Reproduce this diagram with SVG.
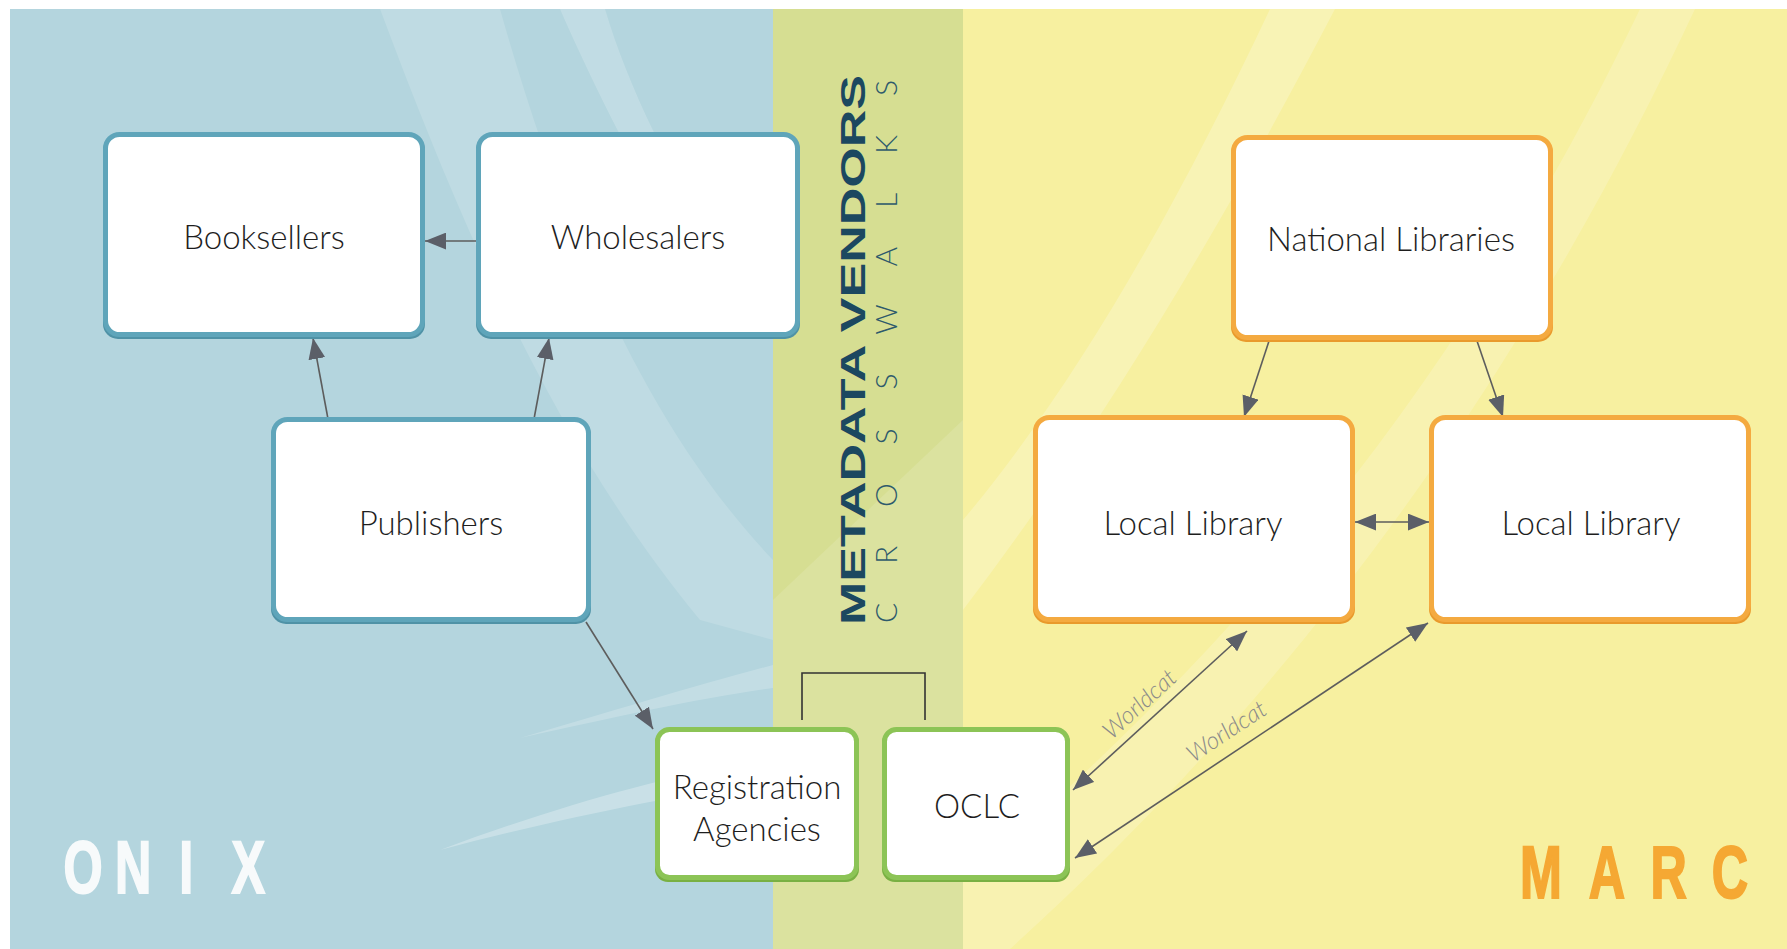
<svg xmlns="http://www.w3.org/2000/svg" width="1787" height="949" viewBox="0 0 1787 949">
<style>
.lbl{font-family:Lato,"Liberation Sans",Arial,sans-serif;font-weight:300;font-size:33px;fill:#1e1e1e;text-anchor:middle}
.box{fill:#fff;stroke-width:5}
.blue{stroke:#5fa5ba}
.blueS{fill:#4f92a6}
.orange{stroke:#f4aa40}
.orangeS{fill:#e99a2c}
.green{stroke:#8cc456}
.greenS{fill:#79b043}
.conn{stroke:#5d5d5d;stroke-width:1.6;fill:none}
.wc{font-family:Lato,"Liberation Sans",Arial,sans-serif;font-weight:300;font-style:italic;font-size:24px;fill:#8a8a8a;text-anchor:middle}
.big{font-family:"Liberation Sans",Arial,sans-serif;font-weight:bold;font-size:74px;text-anchor:middle;stroke-width:2}
</style>
<defs>
<marker id="ah" viewBox="0 0 20 16" refX="20" refY="8" markerWidth="21" markerHeight="17" markerUnits="userSpaceOnUse" orient="auto-start-reverse">
<path d="M0,0 L20,8 L0,16 Z" fill="#5b5f68"/>
</marker>
</defs>
<rect x="0" y="0" width="1787" height="949" fill="#ffffff"/>
<g id="background">
<rect x="10" y="9" width="763" height="940" fill="#b4d5de"/>
<rect x="773" y="9" width="190" height="940" fill="#d6de92"/>
<rect x="963" y="9" width="824" height="940" fill="#f7f0a0"/>
<path d="M380,9 C470,250 560,450 700,620 L773,640 L773,560 C640,420 560,220 500,9 Z" fill="#ffffff" opacity="0.15"/>
<path d="M560,9 C600,100 650,200 720,300 L745,290 C685,200 632,100 605,9 Z" fill="#ffffff" opacity="0.18"/>
<path d="M440,850 C560,818 680,795 773,780 L773,758 C680,772 560,805 440,850 Z" fill="#ffffff" opacity="0.28"/>
<path d="M520,738 C620,716 700,698 773,688 L773,665 C700,684 610,712 520,738 Z" fill="#ffffff" opacity="0.2"/>
<path d="M773,600 L963,420 L963,949 L773,949 Z" fill="#ffffff" opacity="0.12"/>
<path d="M1270,9 C1180,200 1080,380 963,520 L963,610 C1100,430 1220,230 1335,9 Z" fill="#ffffff" opacity="0.22"/>
<path d="M1640,9 C1500,300 1300,600 963,880 L963,949 L1010,949 C1330,660 1545,330 1695,9 Z" fill="#ffffff" opacity="0.18"/>
</g>
<g id="titles">
<text class="big" fill="#f7fafb" stroke="#f7fafb" transform="translate(0,893) scale(0.68,1)" x="122 196 274 365" y="0">ONIX</text>
<text class="big" fill="#f5a833" stroke="#f5a833" transform="translate(0,898) scale(0.68,1)" x="2266 2363 2454 2544" y="0">MARC</text>
<text font-family="Liberation Sans,Arial,sans-serif" font-weight="bold" font-size="35" fill="#1c4860" transform="translate(865,625) rotate(-90)" x="0" y="0" textLength="550" lengthAdjust="spacingAndGlyphs">METADATA VENDORS</text>
<text font-family="Lato,Liberation Sans,sans-serif" font-weight="300" font-size="30" fill="#2e5a6c" transform="translate(897,623) rotate(-90)" x="0" y="0" textLength="543" lengthAdjust="spacing">CROSSWALKS</text>
</g>
<g id="connectors">
<line class="conn" x1="476" y1="241" x2="425" y2="241" marker-end="url(#ah)"/>
<line class="conn" x1="328" y1="419" x2="313" y2="338" marker-end="url(#ah)"/>
<line class="conn" x1="534" y1="419" x2="549" y2="338" marker-end="url(#ah)"/>
<line class="conn" x1="586" y1="622" x2="653" y2="729" marker-end="url(#ah)"/>
<line class="conn" x1="1270" y1="338" x2="1244" y2="417" marker-end="url(#ah)"/>
<line class="conn" x1="1476" y1="338" x2="1503" y2="417" marker-end="url(#ah)"/>
<line class="conn" x1="1355" y1="522" x2="1429" y2="522" marker-start="url(#ah)" marker-end="url(#ah)"/>
<line class="conn" x1="1073" y1="790" x2="1247" y2="631" marker-start="url(#ah)" marker-end="url(#ah)"/>
<line class="conn" x1="1075" y1="858" x2="1428" y2="623" marker-start="url(#ah)" marker-end="url(#ah)"/>
<path d="M802,720 V673 H925 V720" fill="none" stroke="#333" stroke-width="1.6"/>
<text class="wc" transform="translate(1145,710) rotate(-42.2)">Worldcat</text>
<text class="wc" transform="translate(1231,738) rotate(-33.6)">Worldcat</text>
</g>
<g id="booksellers">
<rect class="blueS" x="103" y="135" width="322" height="204" rx="15"/>
<rect class="box blue" x="105.5" y="134.5" width="317" height="200" rx="14"/>
<text class="lbl" x="264" y="249">Booksellers</text>
</g>
<g id="wholesalers">
<rect class="blueS" x="476" y="135" width="324" height="204" rx="15"/>
<rect class="box blue" x="478.5" y="134.5" width="319" height="200" rx="14"/>
<text class="lbl" x="638" y="249">Wholesalers</text>
</g>
<g id="publishers">
<rect class="blueS" x="271" y="420" width="320" height="204" rx="15"/>
<rect class="box blue" x="273.5" y="419.5" width="315" height="200" rx="14"/>
<text class="lbl" x="431" y="535">Publishers</text>
</g>
<g id="national-libraries">
<rect class="orangeS" x="1231" y="138" width="322" height="204" rx="15"/>
<rect class="box orange" x="1233.5" y="137.5" width="317" height="200" rx="14"/>
<text class="lbl" x="1391" y="251">National Libraries</text>
</g>
<g id="local-library-1">
<rect class="orangeS" x="1033" y="418" width="322" height="206" rx="15"/>
<rect class="box orange" x="1035.5" y="417.5" width="317" height="202" rx="14"/>
<text class="lbl" x="1193" y="535">Local Library</text>
</g>
<g id="local-library-2">
<rect class="orangeS" x="1429" y="418" width="322" height="206" rx="15"/>
<rect class="box orange" x="1431.5" y="417.5" width="317" height="202" rx="14"/>
<text class="lbl" x="1591" y="535">Local Library</text>
</g>
<g id="registration-agencies">
<rect class="greenS" x="655" y="730" width="204" height="152" rx="13"/>
<rect class="box green" x="657.5" y="729.5" width="199" height="148" rx="12"/>
<text class="lbl" x="757" y="799">Registration</text>
<text class="lbl" x="757" y="841">Agencies</text>
</g>
<g id="oclc">
<rect class="greenS" x="882" y="730" width="188" height="152" rx="13"/>
<rect class="box green" x="884.5" y="729.5" width="183" height="148" rx="12"/>
<text class="lbl" x="977" y="818">OCLC</text>
</g>
</svg>
